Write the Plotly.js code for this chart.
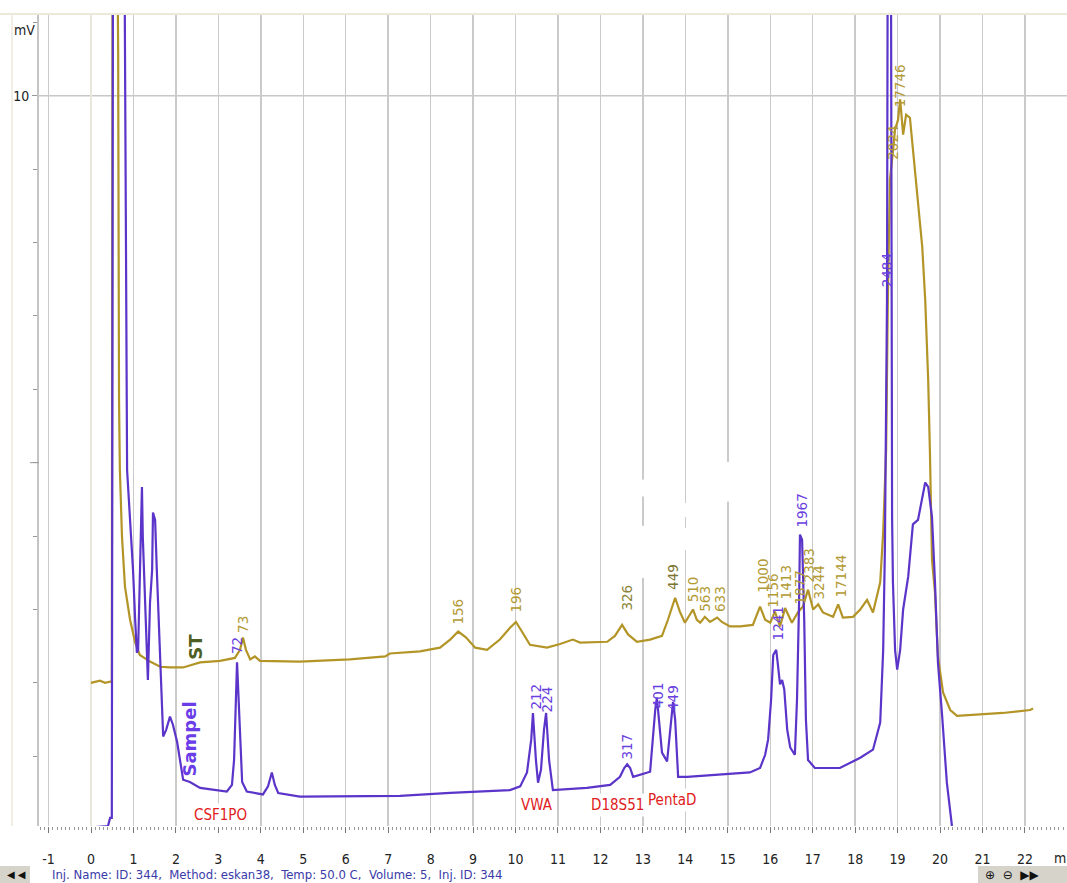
<!DOCTYPE html>
<html><head><meta charset="utf-8">
<script src="https://cdn.plot.ly/plotly-3.0.1.min.js"></script>
<style>html,body{margin:0;padding:0;background:#fff;overflow:hidden}#chart{width:1067px;height:883px;}</style>
</head><body><div id="chart"></div>
<script>
// ---- Data (time in minutes, signal in mV; 13 = off-scale above the axis) ----
const stTime = [0.00,0.21,0.33,0.47,0.49,0.51,0.61,0.64,0.66,0.68,0.73,0.80,0.92,1.04,1.15,1.39,1.63,1.86,2.17,2.57,3.04,3.39,3.51,3.58,3.65,3.75,3.86,3.98,4.92,6.10,6.93,7.04,7.75,8.22,8.46,8.65,8.83,9.05,9.33,9.63,9.87,10.01,10.15,10.34,10.74,11.05,11.35,11.52,12.16,12.34,12.51,12.65,12.86,13.17,13.45,13.59,13.76,13.87,13.99,14.11,14.18,14.27,14.35,14.46,14.58,14.75,14.86,15.05,15.29,15.59,15.76,15.88,16.00,16.11,16.23,16.35,16.51,16.65,16.77,16.89,17.01,17.13,17.24,17.48,17.60,17.71,17.95,18.12,18.28,18.42,18.59,18.66,18.73,18.77,18.82,18.87,18.94,19.01,19.06,19.13,19.20,19.29,19.34,19.41,19.48,19.58,19.65,19.72,19.76,19.81,19.88,19.95,20.07,20.24,20.40,20.87,21.48,22.12,22.19];
const stSignal = [2.00,2.03,2.00,2.02,2.00,13,13,10.56,5.86,4.90,3.99,3.31,2.86,2.55,2.38,2.29,2.22,2.21,2.21,2.28,2.30,2.34,2.45,2.62,2.45,2.32,2.36,2.30,2.29,2.32,2.36,2.40,2.43,2.48,2.59,2.70,2.62,2.48,2.45,2.59,2.75,2.83,2.70,2.52,2.48,2.53,2.59,2.55,2.56,2.64,2.79,2.66,2.56,2.59,2.64,2.86,3.16,2.97,2.82,2.93,3.00,2.86,2.82,2.90,2.83,2.89,2.83,2.77,2.77,2.79,3.04,2.86,2.82,2.97,2.77,3.02,2.82,2.96,3.04,3.27,3.00,3.07,2.96,2.90,3.07,2.89,2.90,3.00,3.13,2.96,3.37,4.05,5.18,7.22,8.86,9.13,9.54,9.67,9.95,9.47,9.74,9.70,9.40,9.03,8.58,7.94,7.22,6.13,5.18,3.68,3.23,2.36,1.87,1.63,1.55,1.57,1.59,1.63,1.65];

const spTime = [0.00,0.40,0.45,0.49,0.52,0.78,0.85,0.92,0.99,1.04,1.08,1.11,1.20,1.22,1.27,1.32,1.34,1.39,1.44,1.46,1.51,1.55,1.58,1.63,1.67,1.70,1.77,1.86,1.93,2.03,2.17,2.33,2.57,3.20,3.32,3.37,3.44,3.49,3.56,3.67,4.05,4.17,4.26,4.33,4.41,4.92,6.10,7.28,8.46,9.47,9.87,10.11,10.27,10.37,10.41,10.48,10.53,10.60,10.67,10.72,10.79,10.88,11.68,12.23,12.46,12.56,12.63,12.70,12.77,13.17,13.24,13.29,13.33,13.40,13.45,13.57,13.64,13.71,13.76,13.83,14.04,14.82,15.52,15.76,15.88,15.95,16.02,16.07,16.14,16.18,16.23,16.28,16.33,16.40,16.47,16.58,16.63,16.68,16.70,16.75,16.80,16.84,16.89,17.05,17.64,18.12,18.42,18.59,18.66,18.70,18.75,18.77,18.84,18.87,18.89,18.94,18.99,19.06,19.13,19.25,19.36,19.48,19.65,19.72,19.81,19.88,19.95,20.05,20.16,20.28,20.38];
const spSignal = [0.03,0.05,0.16,0.16,13,13,4.90,4.22,3.54,2.86,2.41,2.45,4.67,3.99,3.09,2.36,2.04,3.09,3.54,4.32,4.22,3.54,3.09,2.41,1.63,1.27,1.36,1.54,1.43,1.19,0.68,0.65,0.57,0.52,0.61,0.95,2.28,1.50,0.65,0.52,0.48,0.59,0.78,0.61,0.50,0.45,0.45,0.46,0.50,0.53,0.54,0.59,0.78,1.23,1.59,0.95,0.64,0.82,1.36,1.59,0.95,0.54,0.57,0.61,0.72,0.84,0.89,0.84,0.72,0.79,1.32,1.63,1.80,1.29,1.05,0.93,1.36,1.74,1.50,0.72,0.72,0.75,0.78,0.84,1.02,1.23,1.77,2.38,2.45,2.25,1.98,2.04,1.91,1.36,1.12,1.02,1.77,3.13,4.02,3.95,2.86,1.50,0.95,0.84,0.84,0.98,1.09,1.46,2.45,3.81,7.22,13,13,4.26,3.37,2.45,2.18,2.45,3.00,3.45,4.16,4.22,4.73,4.67,4.26,3.37,2.28,1.54,0.64,0.05,-0.27];

// peak labels (rotated)
const stPeakText = ['73','156','196','326','449','510','563','633','1000','1156','1413','1877','2383','3244','17144','2024','17746'];
const stPeakT    = [3.58,8.65,10.01,12.63,13.71,14.18,14.46,14.82,15.83,16.07,16.37,16.70,16.91,17.15,17.67,18.89,19.06];
const stPeakV    = [2.66,2.77,2.93,2.96,3.24,3.07,2.94,2.94,3.20,3.00,3.11,3.04,3.34,3.11,3.13,9.10,9.81];
const spPeakText = ['72','212','224','317','401','449','1241','1967','2484'];
const spPeakT    = [3.44,10.46,10.74,12.63,13.36,13.71,16.18,16.75,18.77];
const spPeakV    = [2.36,1.61,1.57,0.93,1.63,1.59,2.55,4.09,7.36];

// locus names
const locusNames = ['CSF1PO','VWA','D18S51','PentaD'];
const locusT     = [3.04,10.51,12.39,13.69];
const locusV     = [0.20,0.34,0.34,0.41];

// axis ticks
const xTickVals = [-1,0,1,2,3,4,5,6,7,8,9,10,11,12,13,14,15,16,17,18,19,20,21,22];
const yMinorTicks = [1,2,3,4,5,6,7,8,9,11];

const GOLD = '#b39527', PURPLE = '#5b34c9';
const NARROW = '"Liberation Sans Narrow", "DejaVu Sans Condensed", "Liberation Sans", sans-serif';

const traces = [
  {x: stTime, y: stSignal, type: 'scatter', mode: 'lines', line: {color: GOLD, width: 2.2}, hoverinfo: 'skip', cliponaxis: true},
  {x: spTime, y: spSignal, type: 'scatter', mode: 'lines', line: {color: PURPLE, width: 2.2}, hoverinfo: 'skip', cliponaxis: true}
];

const annotations = [];
const darkSt = {'326': '#8a8338', '449': '#7c7430'};
stPeakText.forEach((t, i) => annotations.push({
  x: stPeakT[i], y: stPeakV[i], text: t, showarrow: false, textangle: -90,
  xanchor: 'center', yanchor: 'bottom',
  font: {family: '"DejaVu Sans", sans-serif', size: 13.5, color: darkSt[t] || '#b39a35'}
}));
spPeakText.forEach((t, i) => annotations.push({
  x: spPeakT[i], y: spPeakV[i], text: t, showarrow: false, textangle: -90,
  xanchor: 'center', yanchor: 'bottom',
  font: {family: '"DejaVu Sans", sans-serif', size: 13.5, color: '#6a40e0'}
}));
locusNames.forEach((t, i) => annotations.push({
  x: locusT[i], y: locusV[i], text: t, showarrow: false,
  xanchor: 'center', yanchor: 'middle', bgcolor: '#ffffff', borderpad: 2,
  font: {family: NARROW, size: 15, color: '#e0201c'}
}));
annotations.push(
  {x: 2.47, y: 2.49, text: '<b>ST</b>', showarrow: false, textangle: -90, xanchor: 'center', yanchor: 'middle',
   font: {family: '"DejaVu Sans", sans-serif', size: 18, color: '#4d5f22'}},
  {x: 2.33, y: 1.24, text: '<b>Sampel</b>', showarrow: false, textangle: -90, xanchor: 'center', yanchor: 'middle',
   font: {family: '"DejaVu Sans", sans-serif', size: 18, color: '#6a3de8'}},
  {xref: 'paper', yref: 'paper', x: -0.0263, y: 0.9815, text: 'mV', showarrow: false, xanchor: 'left', yanchor: 'middle',
   font: {family: NARROW, size: 14, color: '#222'}},
  {xref: 'paper', yref: 'paper', x: 0.9854, y: -0.0395, text: 'min', showarrow: false, xanchor: 'left', yanchor: 'middle',
   font: {family: NARROW, size: 14, color: '#222'}},
  {xref: 'paper', yref: 'paper', x: 0.0107, y: -0.0604, text: 'Inj. Name: ID: 344,  Method: eskan38,  Temp: 50.0 C,  Volume: 5,  Inj. ID: 344',
   showarrow: false, xanchor: 'left', yanchor: 'middle', font: {family: NARROW, size: 13, color: '#3a3aa8'}},
  {xref: 'paper', yref: 'paper', x: -0.033, y: -0.0604, text: '◀ ◀', showarrow: false, xanchor: 'left', yanchor: 'middle',
   font: {family: '"DejaVu Sans", sans-serif', size: 10, color: '#111'}},
  {xref: 'paper', yref: 'paper', x: 0.918, y: -0.0604, text: '⊕  ⊖  ▶▶', showarrow: false, xanchor: 'left', yanchor: 'middle',
   font: {family: '"DejaVu Sans", sans-serif', size: 12, color: '#111'}}
);

const whiteRect = (x0, x1, y0, y1) => ({type: 'rect', xref: 'x', yref: 'y', x0, x1, y0, y1, fillcolor: '#ffffff', line: {width: 0}, layer: 'between'});

const shapes = [
  {type: 'line', xref: 'paper', yref: 'y', x0: 0, x1: 1, y0: 10, y1: 10, line: {color: '#c8c8c8', width: 1.5}, layer: 'below'},
  {type: 'line', xref: 'paper', yref: 'paper', x0: -0.0379, x1: 1, y0: 1.0012, y1: 1.0012, line: {color: '#ece9d8', width: 2}},
  {type: 'line', xref: 'paper', yref: 'paper', x0: -0.0263, x1: -0.0263, y0: 0, y1: 1.0012, line: {color: '#efe9dc', width: 1.5}},
  {type: 'line', xref: 'paper', yref: 'y', x0: -0.0088, x1: 0, y0: 5, y1: 5, line: {color: '#999', width: 1}},
  {type: 'rect', xref: 'paper', yref: 'paper', x0: -0.0379, x1: -0.0088, y0: -0.0703, y1: -0.0493, fillcolor: '#d6d3ca', line: {width: 0}},
  {type: 'rect', xref: 'paper', yref: 'paper', x0: 0.9134, x1: 1.0, y0: -0.0703, y1: -0.0493, fillcolor: '#d6d3ca', line: {width: 0}},
  whiteRect(12.93, 13.17, 4.54, 4.77),
  whiteRect(12.93, 13.17, 3.43, 4.14),
  whiteRect(13.92, 14.16, 4.26, 4.45),
  whiteRect(13.92, 14.16, 3.81, 4.11),
  whiteRect(14.94, 15.17, 4.47, 5.01)
];

const layout = {
  width: 1067, height: 883,
  margin: {l: 39, r: 0, t: 15, b: 57, pad: 0},
  paper_bgcolor: '#ffffff', plot_bgcolor: '#ffffff',
  showlegend: false,
  font: {family: NARROW, size: 14, color: '#222'},
  xaxis: {
    range: [-1.225, 22.99], tickvals: xTickVals, ticktext: xTickVals.map(String),
    showgrid: true, gridcolor: '#cacaca', gridwidth: 1.5,
    zeroline: true, zerolinecolor: '#e9e6da', zerolinewidth: 1.5,
    ticks: 'outside', ticklen: 6, tickcolor: '#777', tickwidth: 1,
    minor: {dtick: 0.1, tick0: 0, ticks: 'outside', ticklen: 3, tickcolor: '#999', tickwidth: 1, showgrid: false},
    showline: false, ticklabelstandoff: 14,
    tickfont: {family: NARROW, size: 14, color: '#222'}, fixedrange: true
  },
  yaxis: {
    range: [0.05, 11.1], tickvals: [10], ticktext: ['10'],
    showgrid: false, zeroline: false,
    ticks: 'outside', ticklen: 5, tickcolor: '#999', tickwidth: 1,
    minor: {tickvals: yMinorTicks, ticks: 'outside', ticklen: 4, tickcolor: '#999', tickwidth: 1, showgrid: false},
    showline: true, linecolor: '#c4c4c4', linewidth: 2,
    tickfont: {family: NARROW, size: 14, color: '#222'}, fixedrange: true
  },
  annotations, shapes
};

Plotly.newPlot('chart', traces, layout, {displayModeBar: false, staticPlot: true});
</script></body></html>
